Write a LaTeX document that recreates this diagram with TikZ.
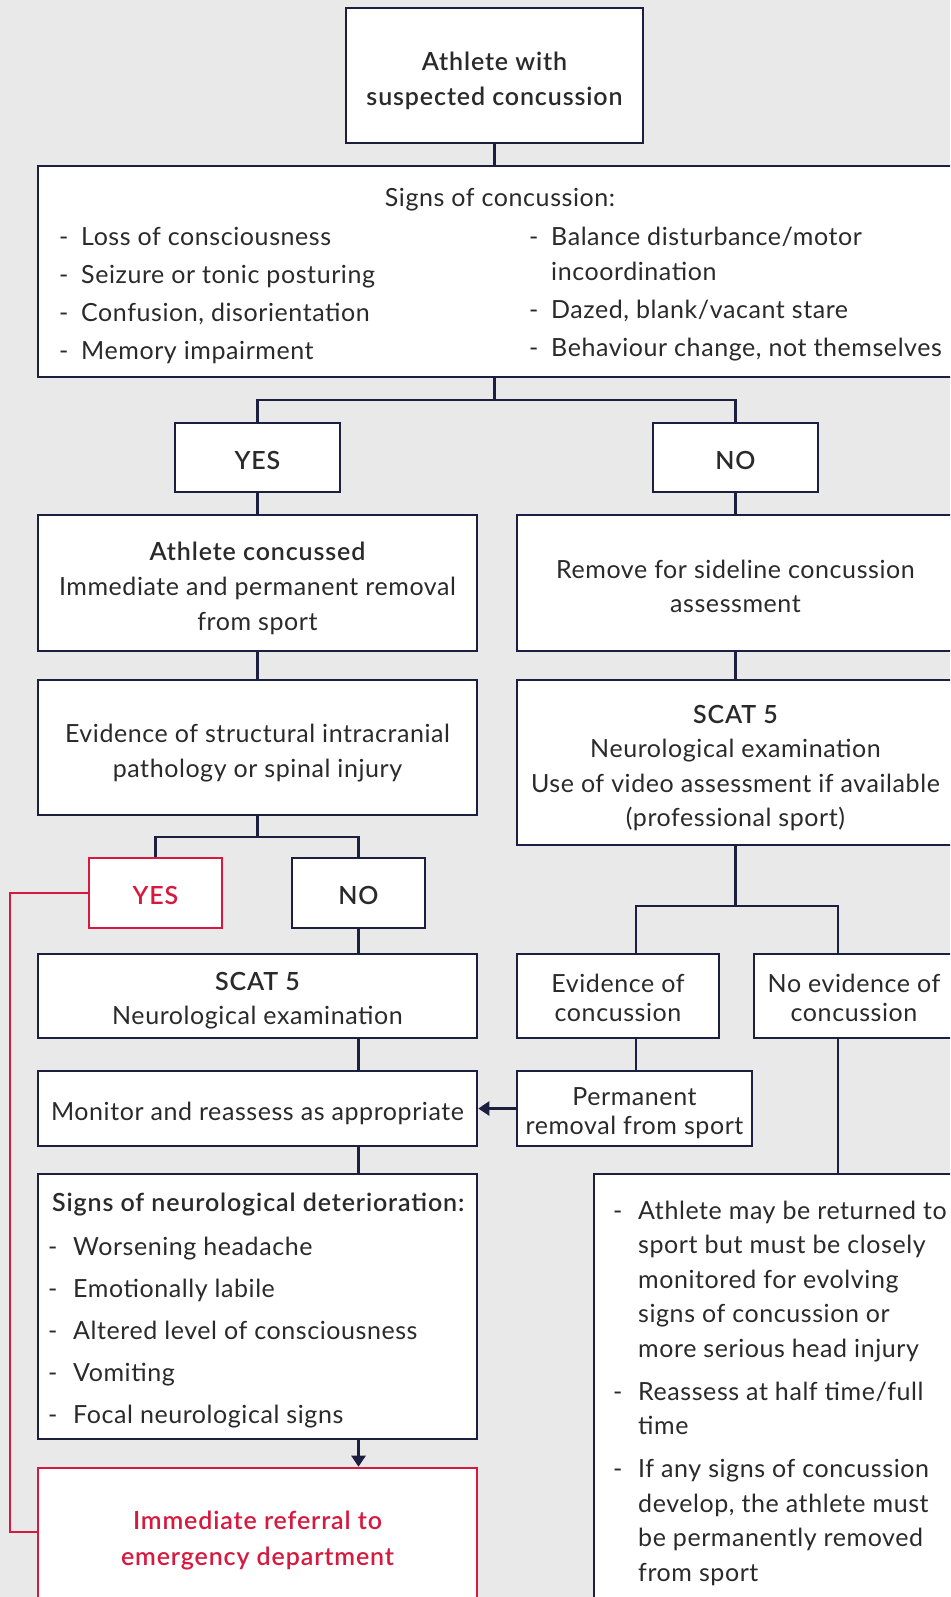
\documentclass[tikz,border=0pt]{standalone}
\usepackage{fontspec}
\setmainfont{Lato}[LetterSpace=2.3]
\IfFontExistsTF{Lato Semibold}{\newfontfamily\hdf{Lato Semibold}[LetterSpace=3.5]}{\newfontfamily\hdf{Lato Bold}[LetterSpace=3]}
\usetikzlibrary{arrows.meta}
\definecolor{navy}{HTML}{1C1F3F}
\definecolor{crim}{HTML}{D7193F}
\definecolor{bgc}{HTML}{E9E9E9}
\definecolor{txt}{HTML}{2A2A2A}
\tikzset{
  box/.style={draw=navy, line width=2.6pt, fill=white, inner sep=0pt},
  redbox/.style={box, draw=crim},
  tx/.style={inner sep=0pt, align=center, text=txt, font=\fontsize{25}{35}\selectfont},
  rtx/.style={tx, text=crim},
  conn/.style={draw=navy, line width=2.6pt},
  redconn/.style={draw=crim, line width=2.6pt},
  arr/.style={conn, -{Triangle[width=14pt,length=11pt]}},
  lst/.style={inner sep=0pt, anchor=base west, text=txt, font=\fontsize{25}{38}\selectfont},
  hd/.style={inner sep=0pt, text=txt},
}
\begin{document}
\begin{tikzpicture}[x=1pt,y=-1pt]
\useasboundingbox (0,0) rectangle (950,1597);
\clip (0,0) rectangle (950,1597);
\fill[bgc] (0,0) rectangle (950,1597);

% boxes
\node[box, minimum width=297pt, minimum height=135pt] (top) at (494.5,75.5) {};
\node[tx, font=\hdf\fontsize{25}{35}\selectfont] (topt) at ([yshift=-5pt]top.center) {Athlete with\\suspected concussion};

\node[box, minimum width=918pt, minimum height=211pt] (signs) at (497,271.5) {};
\node[hd, anchor=base, font=\fontsize{25}{35}\selectfont] (signsh) at (500,206.5) {Signs of concussion:};
\node[lst] (signsl) at (59,245.5) {\begin{tabular}[t]{@{}p{22pt}@{}l@{}}
- & Loss of consciousness\\
- & Seizure or tonic posturing\\
- & Confusion, disorientation\\
- & Memory impairment\end{tabular}};
\node[lst] (signsr) at (529,245.5) {\begin{tabular}[t]{@{}p{22pt}@{}l@{}}
- & Balance disturbance/motor\\[-3pt]
  & incoordination\\
- & Dazed, blank/vacant stare\\
- & Behaviour change, not themselves\end{tabular}};

\node[box, minimum width=165pt, minimum height=69pt] (yes1) at (257.5,457.5) {};
\node[tx, font=\hdf\fontsize{25}{30}\selectfont] (yes1t) at ([yshift=-2.5pt]yes1.center) {YES};
\node[box, minimum width=165pt, minimum height=69pt] (no1) at (735.5,457.5) {};
\node[tx, font=\hdf\fontsize{25}{30}\selectfont] (no1t) at ([yshift=-2.5pt]no1.center) {NO};

\node[box, minimum width=439pt, minimum height=136pt] (conc) at (257.5,583) {};
\node[tx] (conct) at ([yshift=-5pt]conc.center) {{\hdf Athlete concussed}\\Immediate and permanent removal\\from sport};
\node[box, minimum width=437pt, minimum height=136pt] (remove) at (735.5,583) {};
\node[tx, font=\fontsize{25}{34}\selectfont] (removet) at ([yshift=-3.5pt]remove.center) {Remove for sideline concussion\\assessment};
\node[box, minimum width=439pt, minimum height=135pt] (struct) at (257.5,747.5) {};
\node[tx] (structt) at ([yshift=-5.5pt]struct.center) {Evidence of structural intracranial\\pathology or spinal injury};
\node[box, minimum width=437pt, minimum height=165pt] (scatR) at (735.5,762.5) {};
\node[tx, font=\fontsize{25}{34.5}\selectfont] (scatRt) at ([yshift=-5.5pt]scatR.center) {{\hdf SCAT 5}\\Neurological examination\\Use of video assessment if available\\(professional sport)};

\node[redbox, minimum width=133pt, minimum height=70pt] (yes2) at (155.5,893) {};
\node[rtx, font=\hdf\fontsize{25}{30}\selectfont] (yes2t) at ([yshift=-2.5pt]yes2.center) {YES};
\node[box, minimum width=133pt, minimum height=70pt] (no2) at (358.5,893) {};
\node[tx, font=\hdf\fontsize{25}{30}\selectfont] (no2t) at ([yshift=-2.5pt]no2.center) {NO};

\node[box, minimum width=439pt, minimum height=84pt] (scatL) at (257.5,996) {};
\node[tx, font=\fontsize{25}{34}\selectfont] (scatLt) at ([yshift=-4.5pt]scatL.center) {{\hdf SCAT 5}\\Neurological examination};
\node[box, minimum width=202pt, minimum height=84pt] (evid) at (618,996) {};
\node[tx, font=\fontsize{25}{29}\selectfont] (evidt) at ([yshift=-2pt]evid.center) {Evidence of\\concussion};
\node[box, minimum width=200pt, minimum height=84pt] (noev) at (854,996) {};
\node[tx, font=\fontsize{25}{29}\selectfont] (noevt) at ([yshift=-2pt]noev.center) {No evidence of\\concussion};

\node[box, minimum width=439pt, minimum height=75pt] (monitor) at (257.5,1108.5) {};
\node[tx] (monitort) at ([yshift=-4.5pt]monitor.center) {Monitor and reassess as appropriate};
\node[box, minimum width=235pt, minimum height=75pt] (perm) at (634.5,1108.5) {};
\node[tx, font=\fontsize{25}{29}\selectfont] (permt) at ([yshift=-4.5pt]perm.center) {Permanent\\removal from sport};

\node[box, minimum width=439pt, minimum height=265pt] (neuro) at (257.5,1306.5) {};
\node[hd, anchor=base west, font=\hdf\fontsize{25}{35}\selectfont] (neuroh) at (52,1211.5) {Signs of neurological deterioration:};
\node[lst, font=\fontsize{25}{42}\selectfont] (neurol) at (48,1255.5) {\begin{tabular}[t]{@{}p{25pt}@{}l@{}}
- & Worsening headache\\
- & Emotionally labile\\
- & Altered level of consciousness\\
- & Vomiting\\
- & Focal neurological signs\end{tabular}};

\node[redbox, minimum width=439pt, minimum height=138pt] (refer) at (257.5,1537) {};
\node[rtx, font=\hdf\fontsize{25}{36}\selectfont] (refert) at ([yshift=-3.5pt]refer.center) {Immediate referral to\\emergency department};

\node[box, minimum width=360pt, minimum height=446pt] (rbot) at (774,1397) {};
\node[lst, font=\fontsize{25}{34.5}\selectfont] (rbotl) at (613,1219) {\begin{tabular}[t]{@{}p{25pt}@{}l@{}}
- & Athlete may be returned to\\
  & sport but must be closely\\
  & monitored for evolving\\
  & signs of concussion or\\
  & more serious head injury\\[8.5pt]
- & Reassess at half time/full\\
  & time\\[8.5pt]
- & If any signs of concussion\\
  & develop, the athlete must\\
  & be permanently removed\\
  & from sport\end{tabular}};

% connectors
\coordinate (b1) at (494.5,400);
\coordinate (b2) at (257.5,837);
\coordinate (b3) at (735.5,906);
\coordinate (ex) at (636,0);
\coordinate (nx) at (838,0);
\coordinate (rl) at (10,1532);

\draw[conn] (top.south) -- (top.south |- signs.north);
\draw[conn] (top.south |- signs.south) -- (b1);
\draw[conn] (yes1.north) |- (b1) -| (no1.north);
\draw[conn] (yes1.south) -- (conc.north);
\draw[conn] (no1.south) -- (remove.north);
\draw[conn] (conc.south) -- (struct.north);
\draw[conn] (remove.south) -- (scatR.north);
\draw[conn] (struct.south) -- (b2);
\draw[conn] (yes2.north) |- (b2) -| (no2.north);
\draw[conn] (no2.south) -- (no2.south |- scatL.north);
\draw[redconn] (yes2.west) -| (rl) -- (rl -| refer.west);
\draw[conn] (no2.south |- scatL.south) -- (no2.south |- monitor.north);
\draw[conn] (no2.south |- monitor.south) -- (no2.south |- neuro.north);
\draw[arr] (no2.south |- neuro.south) -- (no2.south |- refer.north);
\draw[conn] (scatR.south) -- (b3);
\draw[conn] (evid.north -| ex) |- (b3) -| (noev.north -| nx);
\draw[conn] (evid.south -| ex) -- (perm.north -| ex);
\draw[arr] (perm.west) -- (monitor.east);
\draw[conn] (noev.south -| nx) -- (rbot.north -| nx);
\end{tikzpicture}
\end{document}
